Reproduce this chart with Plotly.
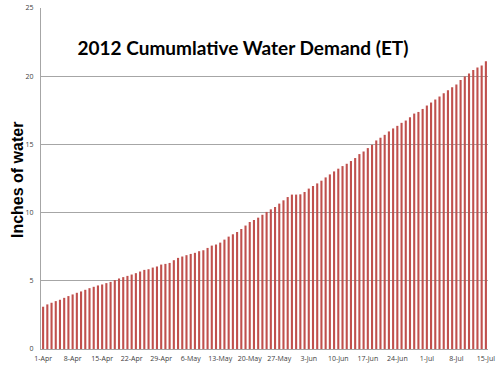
import plotly.graph_objects as go
import pandas as pd

dates = pd.date_range("2012-04-01", "2012-07-15", freq="D")
categories = [f"{d.day}-{d.strftime('%b')}" for d in dates]

et_inches = [
    3.10, 3.27, 3.39, 3.51, 3.61, 3.75, 3.88, 4.00, 4.12, 4.22,
    4.34, 4.46, 4.56, 4.66, 4.73, 4.83, 4.92, 5.05, 5.17, 5.27,
    5.36, 5.46, 5.56, 5.68, 5.80, 5.85, 5.97, 6.05, 6.19, 6.24,
    6.31, 6.51, 6.68, 6.78, 6.88, 6.97, 7.05, 7.17, 7.24, 7.41,
    7.58, 7.66, 7.80, 8.02, 8.24, 8.41, 8.58, 8.80, 9.05, 9.31,
    9.46, 9.63, 9.84, 10.05, 10.24, 10.41, 10.66, 10.90, 11.14, 11.32,
    11.32, 11.34, 11.51, 11.76, 11.95, 12.14, 12.34, 12.58, 12.80, 13.02,
    13.22, 13.41, 13.58, 13.78, 14.00, 14.29, 14.48, 14.73, 14.97, 15.29,
    15.49, 15.70, 15.95, 16.17, 16.36, 16.58, 16.75, 16.99, 17.26, 17.38,
    17.60, 17.85, 18.07, 18.29, 18.51, 18.75, 18.97, 19.19, 19.39, 19.73,
    19.97, 20.19, 20.46, 20.63, 20.78, 21.09,
]

tick_labels = categories[::7]
y_ticks = [0, 5, 10, 15, 20, 25]

fig = go.Figure(go.Bar(
    x=categories, y=et_inches,
    marker=dict(color="#c0504d", line=dict(width=0)),
))

fig.add_annotation(
    text="<b>Inches of water</b>", textangle=-90,
    xref="paper", yref="paper", x=-0.054, y=0.495,
    xanchor="center", yanchor="middle", showarrow=False,
    font=dict(family="Arial, Liberation Sans, sans-serif", size=16, color="black"),
)

fig.update_layout(
    width=500, height=366,
    margin=dict(l=41, r=12, t=8, b=17),
    paper_bgcolor="white", plot_bgcolor="white",
    bargap=0.5,
    showlegend=False,
    title=dict(
        text="<b>2012 Cumumlative Water Demand (ET)</b>",
        x=0.486, xanchor="center", y=0.868, yanchor="middle",
        font=dict(family="Lato, Open Sans, sans-serif", size=19, color="black"),
    ),
    xaxis=dict(
        type="category", automargin=False,
        tickmode="array", tickvals=tick_labels, ticktext=tick_labels,
        tickangle=0,
        tickfont=dict(family="Open Sans, sans-serif", size=7, color="#404040"),
        showgrid=False, showline=True, linecolor="#a6a6a6", linewidth=1,
        ticks="", ticklen=0, ticklabelstandoff=3,
        range=[-0.5, len(categories) - 0.5],
    ),
    yaxis=dict(
        range=[0, 25], tickvals=y_ticks, automargin=False,
        tickfont=dict(family="Open Sans, sans-serif", size=7, color="#404040"),
        showgrid=True, gridcolor="#a6a6a6", gridwidth=1,
        showline=True, linecolor="#a6a6a6", linewidth=1,
        zeroline=False, ticks="", ticklen=0,
        ticklabelstandoff=5,
    ),
)

fig.write_html("out.html", config={"displayModeBar": False},
               post_script="document.body.style.margin='0';")
